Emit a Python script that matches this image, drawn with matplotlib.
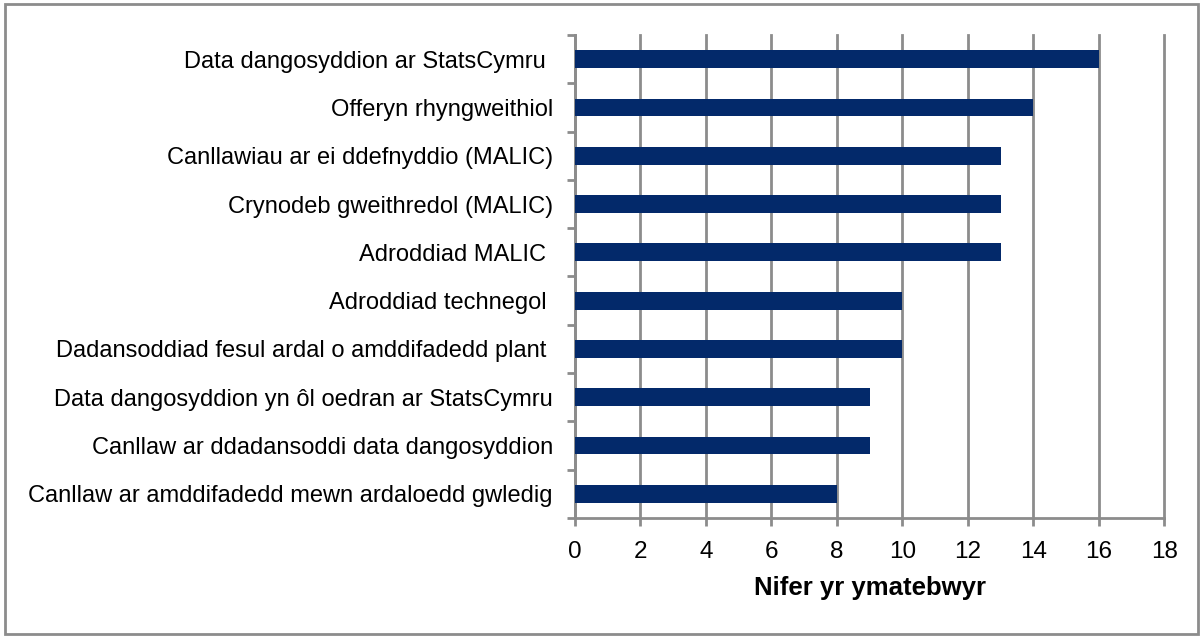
import matplotlib.pyplot as plt
from matplotlib.patches import Rectangle
import numpy as np

plt.rcParams['font.family'] = ['Liberation Sans', 'DejaVu Sans']

# categories top to bottom
labels = ['Data dangosyddion ar StatsCymru ',
          'Offeryn rhyngweithiol',
          'Canllawiau ar ei ddefnyddio (MALIC)',
          'Crynodeb gweithredol (MALIC)',
          'Adroddiad MALIC ',
          'Adroddiad technegol ',
          'Dadansoddiad fesul ardal o amddifadedd plant ',
          'Data dangosyddion yn ôl oedran ar StatsCymru',
          'Canllaw ar ddadansoddi data dangosyddion',
          'Canllaw ar amddifadedd mewn ardaloedd gwledig']
values = [16, 14, 13, 13, 13, 10, 10, 9, 9, 8]
xticks = [0, 2, 4, 6, 8, 10, 12, 14, 16, 18]

grey = '#8c8c8c'
navy = '#03296a'

fig = plt.figure(figsize=(12.03, 6.37), dpi=100)
ax = fig.add_axes([0.478, 0.187, 0.4897, 0.758])

y = np.arange(len(labels))
ax.barh(y, values, height=0.37, color=navy, zorder=3)

ax.set_xlim(0, 18)
ax.set_ylim(len(labels) - 0.5, -0.5)
ax.set_xticks(xticks)
ax.set_xticklabels([str(t) for t in xticks], fontsize=17.5)
ax.set_yticks(y)
ax.set_yticklabels(labels, fontsize=17)
ax.tick_params(axis='y', length=0, pad=16)
ax.tick_params(axis='x', length=6, width=2, color=grey, pad=11)

# category boundary ticks on the y axis
ax.set_yticks(np.arange(-0.5, len(labels), 1), minor=True)
ax.tick_params(axis='y', which='minor', length=6, width=2, color=grey)

ax.xaxis.grid(True, color=grey, linewidth=2, zorder=0)
for gl in ax.get_xgridlines():
    gl.set_clip_on(False)
for s in ['top', 'right']:
    ax.spines[s].set_visible(False)
for s in ['left', 'bottom']:
    ax.spines[s].set_color(grey)
    ax.spines[s].set_linewidth(2)

ax.set_xlabel('Nifer yr ymatebwyr', fontsize=18.5, fontweight='bold', labelpad=9)

fig.patches.append(Rectangle((0.004, 0.004), 0.992, 0.99, transform=fig.transFigure,
                             fill=False, edgecolor=grey, linewidth=2))

fig.savefig('out.png', dpi=100)
